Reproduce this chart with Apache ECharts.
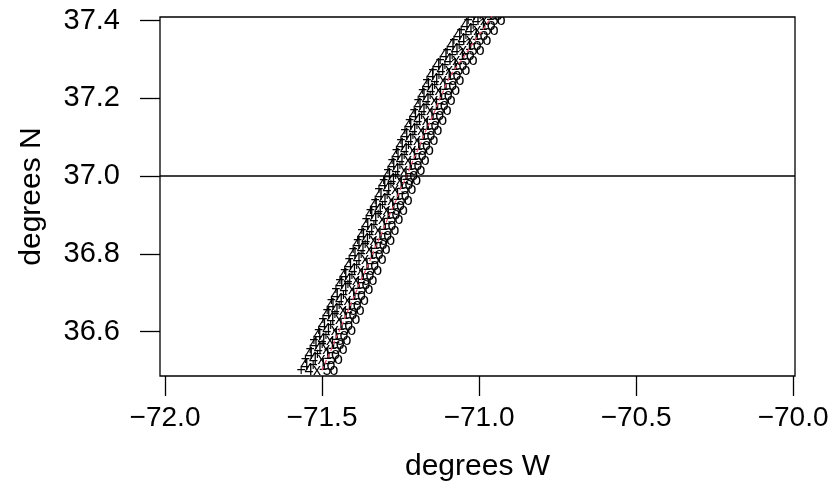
<!DOCTYPE html>
<html>
<head>
<meta charset="utf-8">
<script src="https://cdn.jsdelivr.net/npm/echarts@6/dist/echarts.min.js"></script>
<style>
html,body{margin:0;padding:0;background:#fff;}
#chart{width:833px;height:491px;}
</style>
</head>
<body>
<div id="chart"></div>
<script>
// Track of the ship (centre of the band of station markers), degrees
var trackLon = [-71.500,-71.486,-71.471,-71.459,-71.444,-71.430,-71.417,-71.403,-71.389,-71.376,
                -71.361,-71.347,-71.334,-71.320,-71.306,-71.293,-71.279,-71.264,-71.252,-71.237,
                -71.223,-71.210,-71.196,-71.182,-71.169,-71.154,-71.140,-71.127,-71.113,-71.099,
                -71.080,-71.057,-71.035,-71.013,-70.990,-70.968,-70.952];
var trackLat = [36.501,36.527,36.553,36.578,36.604,36.630,36.655,36.681,36.707,36.732,
                36.758,36.784,36.810,36.835,36.861,36.887,36.912,36.938,36.964,36.989,
                37.015,37.041,37.066,37.092,37.118,37.143,37.169,37.195,37.220,37.246,
                37.272,37.297,37.323,37.349,37.374,37.400,37.421];
var refLat = 37.0;
var xTicks = [-72.0,-71.5,-71.0,-70.5,-70.0];
var yTicks = [36.6,36.8,37.0,37.2,37.4];
var xRange = [-72.016,-69.994];
var yRange = [36.486,37.409];
var glyphs = ['+','4','4','+','x','1','5','o','o'];

var trackData = trackLon.map(function(v,i){return [v, trackLat[i]];});
// glyph placement around each track point (pixels): [dx, dy]
var glyphPlace = [[-21,0],[-17,-5],[-13,0],[-9,-5],[-5,0],[1,-5],[5,0],[9,-5],[12,0]];

function fmt(v){ return Number(v).toFixed(1).replace('-', '\u2212'); }

var chart = echarts.init(document.getElementById('chart'), null, {renderer:'canvas'});
var FONT = 'Liberation Sans';
chart.setOption({
  animation:false,
  backgroundColor:'#fff',
  grid:{left:160,right:38,top:17,bottom:115,show:true,borderColor:'#000',borderWidth:1.3,backgroundColor:'transparent'},
  xAxis:{
    type:'value', min:xRange[0], max:xRange[1],
    name:'degrees W', nameLocation:'middle', nameGap:76,
    nameTextStyle:{fontFamily:FONT,fontSize:30,color:'#000'},
    axisLine:{show:false}, splitLine:{show:false},
    axisTick:{show:true,length:20,inside:false,customValues:xTicks,lineStyle:{color:'#000',width:1.3}},
    axisLabel:{show:true,customValues:xTicks,margin:28,fontFamily:FONT,fontSize:28,color:'#000',formatter:fmt}
  },
  yAxis:{
    type:'value', min:yRange[0], max:yRange[1],
    name:'degrees N', nameLocation:'middle', nameGap:113, nameRotate:90,
    nameTextStyle:{fontFamily:FONT,fontSize:30,color:'#000'},
    axisLine:{show:false}, splitLine:{show:false},
    axisTick:{show:true,length:20,inside:false,customValues:yTicks,lineStyle:{color:'#000',width:1.3}},
    axisLabel:{show:true,customValues:yTicks,margin:40,fontFamily:FONT,fontSize:29,color:'#000',formatter:fmt}
  },
  series:[
    {
      type:'custom', clip:true, data:trackData, z:2,
      renderItem:function(params, api){
        var p = api.coord([api.value(0), api.value(1)]);
        var ch = glyphPlace.map(function(o,k){
          return {type:'text', x:p[0]+o[0], y:p[1]+o[1],
            style:{text:glyphs[k], fontSize:16, fontFamily:FONT, fill:'#000', align:'center', verticalAlign:'middle'}};
        });
        return {type:'group', children:ch};
      }
    },
    {
      type:'line', data:trackData, symbol:'none', z:3, clip:true,
      lineStyle:{color:'#DF536B',width:1.3,type:[4,3]},
      markLine:{silent:true,symbol:'none',label:{show:false},
        lineStyle:{color:'#000',width:1.5,type:'solid'},
        data:[{yAxis:refLat}]}
    }
  ]
});
</script>
</body>
</html>
